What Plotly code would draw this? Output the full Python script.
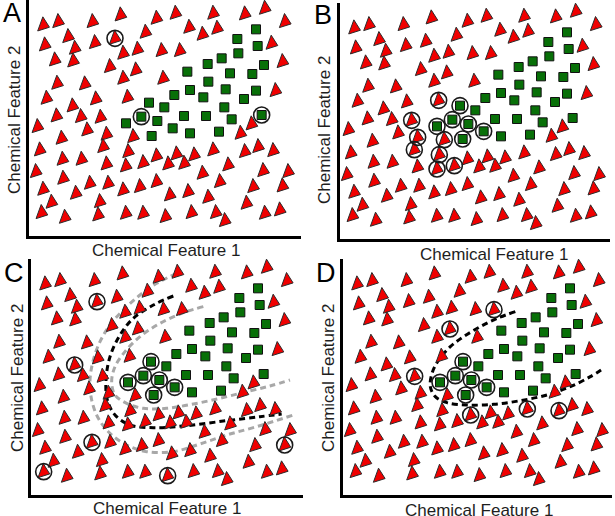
import plotly.graph_objects as go

W, H = 615, 516

# ---- data: inactive compounds (triangles) in feature space ----
tri_f1 = [43, 88, 191, 275, 383, 440, 553, 648, 708, 768,
          481, 521, 565, 350, 118, 258, 48, 138, 198, 283,
          326, 398, 453, 728, 78, 133, 243, 321, 283, 403,
          761, 85, 168, 740, 53, 201, 296, 131, 83, 156,
          215, 26, 175, 233, 98, 313, 635, 668, 33, 223,
          298, 101, 158, 233, 291, 343, 383, 418, 443, 466,
          496, 553, 648, 688, 733, 598, 21, 103, 183, 238,
          283, 333, 383, 521, 573, 703, 778, 43, 141, 213,
          68, 423, 478, 538, 673, 761, 653, 38, 108, 208,
          291, 343, 410, 488, 561, 588, 708, 753]
tri_f2 = [633, 643, 643, 663, 653, 668, 668, 666, 683, 643,
          626, 605, 623, 611, 598, 593, 573, 563, 580, 548,
          560, 556, 556, 578, 528, 525, 508, 498, 473, 473,
          523, 458, 456, 436, 413, 411, 416, 390, 360, 358,
          356, 328, 318, 305, 293, 298, 308, 336, 258, 268,
          253, 230, 230, 216, 210, 220, 240, 216, 246, 218,
          243, 258, 253, 268, 256, 213, 193, 173, 158, 158,
          138, 148, 163, 188, 163, 196, 193, 140, 128, 103,
          101, 123, 133, 116, 148, 150, 98, 70, 56, 63,
          68, 68, 58, 70, 70, 46, 68, 78]

# ---- data: active compounds (squares) ----
sq_f1 = [681, 625, 686, 628, 578, 536, 705, 475, 603, 670,
         538, 483, 590, 681, 436, 523, 645, 360, 406, 586,
         337, 465, 531, 608, 698, 291, 385, 431, 483, 570, 368]
sq_f2 = [620, 591, 570, 548, 533, 516, 513, 493, 488, 486,
         463, 438, 440, 436, 423, 416, 411, 400, 386, 386,
         358, 360, 360, 350, 363, 338, 345, 323, 308, 313, 300]

# ---- highlighted (circled) compounds per panel, 1-based point numbers ----
circ_tri_A = [16]
circ_sq_A = [21, 25]
circ_tri_B = [37, 41, 44, 46, 50, 51, 55, 56]
circ_sq_B = [18, 21, 26, 27, 28, 31]
circ_tri_C = [19, 38, 69, 86, 88, 93]
circ_sq_C = [18, 21, 26, 27, 28, 31]
circ_tri_D = [23, 28, 41, 57, 62, 63]
circ_sq_D = [18, 21, 26, 27, 28, 31]

# ---- decision boundaries ----
c_black_f1 = [427, 367, 307, 267, 237, 225, 229, 252, 297, 367, 467, 587, 687, 752]
c_black_f2 = [597, 570, 530, 480, 415, 345, 285, 240, 210, 202, 208, 223, 235, 243]
c_outer_f1 = [437, 377, 327, 277, 237, 207, 187, 177, 182, 202, 237, 287, 347, 427, 507, 587, 677, 787]
c_outer_f2 = [665, 635, 600, 555, 510, 460, 405, 345, 285, 230, 185, 150, 130, 130, 153, 180, 205, 240]
c_inner_f1 = [517, 457, 387, 327, 282, 252, 242, 252, 287, 337, 407, 487, 567, 647, 717, 777]
c_inner_f2 = [565, 547, 515, 475, 430, 385, 340, 300, 275, 260, 260, 273, 290, 310, 327, 345]
d_black_f1 = [517, 462, 412, 362, 322, 287, 267, 262, 277, 312, 372, 452, 532, 612, 682, 742, 782]
d_black_f2 = [550, 530, 505, 475, 445, 405, 365, 325, 295, 277, 270, 272, 283, 300, 325, 355, 380]

panel_labels = ["A", "B", "C", "D"]
x_title = "Chemical Feature 1"
y_title = "Chemical Feature 2"

# panel geometry in pixels: left, right, bottom, top
panels = {
    "A": dict(l=29, r=301, b=236, t=0),
    "B": dict(l=340, r=610, b=239, t=3),
    "C": dict(l=31, r=303, b=495, t=259),
    "D": dict(l=343, r=612, b=495, t=259),
}
label_pos = {"A": (12, 13), "B": (323, 15), "C": (14, 273), "D": (326, 273)}
xt_pos = {"A": (166, 250), "B": (494, 254), "C": (167, 508), "D": (479, 510)}
yt_pos = {"A": (15, 120), "B": (324, 130), "C": (17, 378), "D": (328, 378)}

circles = {
    "A": (circ_tri_A, circ_sq_A),
    "B": (circ_tri_B, circ_sq_B),
    "C": (circ_tri_C, circ_sq_C),
    "D": (circ_tri_D, circ_sq_D),
}

fig = go.Figure()
FONT = "Liberation Sans, Arial, sans-serif"
annotations = []

for i, p in enumerate(panel_labels):
    g = panels[p]
    xa = "x" if i == 0 else f"x{i+1}"
    ya = "y" if i == 0 else f"y{i+1}"
    xkey = "xaxis" if i == 0 else f"xaxis{i+1}"
    ykey = "yaxis" if i == 0 else f"yaxis{i+1}"
    fig.update_layout({
        xkey: dict(domain=[g["l"] / W, g["r"] / W], range=[0, (g["r"] - g["l"]) * 3],
                   showgrid=False, zeroline=False, showticklabels=False, ticks="",
                   showline=True, linecolor="black", linewidth=2.5, anchor=ya, fixedrange=True),
        ykey: dict(domain=[1 - g["b"] / H, 1 - g["t"] / H], range=[0, (g["b"] - g["t"]) * 3],
                   showgrid=False, zeroline=False, showticklabels=False, ticks="",
                   showline=True, linecolor="black", linewidth=2.5, anchor=xa, fixedrange=True),
    })

    # boundaries
    if p == "C":
        for fx, fy, col in [(c_outer_f1, c_outer_f2, "#a8a8a8"),
                            (c_inner_f1, c_inner_f2, "#a8a8a8"),
                            (c_black_f1, c_black_f2, "black")]:
            fig.add_trace(go.Scatter(x=fx, y=fy, xaxis=xa, yaxis=ya, mode="lines",
                                     line=dict(color=col, width=3, dash="6px,4px", shape="spline"),
                                     hoverinfo="skip", showlegend=False))
    if p == "D":
        fig.add_trace(go.Scatter(x=d_black_f1, y=d_black_f2, xaxis=xa, yaxis=ya, mode="lines",
                                 line=dict(color="black", width=3, dash="6px,4px", shape="spline"),
                                 hoverinfo="skip", showlegend=False))

    fig.add_trace(go.Scatter(x=tri_f1, y=tri_f2, xaxis=xa, yaxis=ya, mode="markers",
                             marker=dict(symbol="triangle-right", angle=20, size=13, color="#f00000",
                                         line=dict(color="#2b2b2b", width=1)),
                             showlegend=False, name="inactive"))
    fig.add_trace(go.Scatter(x=sq_f1, y=sq_f2, xaxis=xa, yaxis=ya, mode="markers",
                             marker=dict(symbol="square", size=9, color="#087008",
                                         line=dict(color="#111111", width=1)),
                             showlegend=False, name="active"))
    ct, cs = circles[p]
    cx = [tri_f1[k - 1] for k in ct] + [sq_f1[k - 1] for k in cs]
    cy = [tri_f2[k - 1] for k in ct] + [sq_f2[k - 1] for k in cs]
    fig.add_trace(go.Scatter(x=cx, y=cy, xaxis=xa, yaxis=ya, mode="markers",
                             marker=dict(symbol="circle-open", size=16, color="#1a1a1a",
                                         line=dict(color="#1a1a1a", width=1.6)),
                             showlegend=False, name="selected", hoverinfo="skip"))

    lx, ly = label_pos[p]
    annotations.append(dict(text=p, x=lx / W, y=1 - ly / H, xref="paper", yref="paper",
                            showarrow=False, xanchor="center", yanchor="middle",
                            font=dict(family=FONT, size=27, color="black")))
    tx, ty = xt_pos[p]
    annotations.append(dict(text=x_title, x=tx / W, y=1 - ty / H, xref="paper", yref="paper",
                            showarrow=False, xanchor="center", yanchor="middle",
                            font=dict(family=FONT, size=17, color="#1e1e1e")))
    vx, vy = yt_pos[p]
    annotations.append(dict(text=y_title, x=vx / W, y=1 - vy / H, xref="paper", yref="paper",
                            showarrow=False, xanchor="center", yanchor="middle", textangle=-90,
                            font=dict(family=FONT, size=17, color="#1e1e1e")))

fig.update_layout(width=W, height=H, margin=dict(l=0, r=0, t=0, b=0),
                  paper_bgcolor="white", plot_bgcolor="white",
                  annotations=annotations, showlegend=False)

fig.write_html("out.html", config={"displayModeBar": False},
               post_script="document.body.style.margin='0px';document.body.style.overflow='hidden';")
